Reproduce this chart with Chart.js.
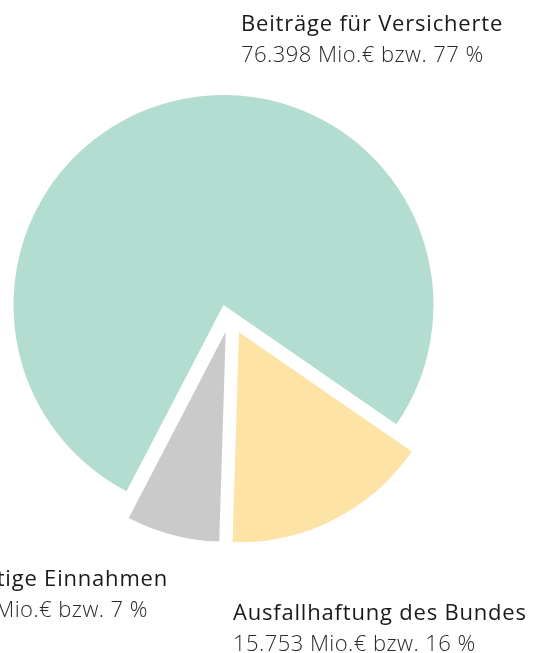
<!DOCTYPE html>
<html>
<head>
<meta charset="utf-8">
<script src="https://cdn.jsdelivr.net/npm/chart.js@4/dist/chart.umd.min.js"></script>
<style>
  html, body { margin: 0; padding: 0; background: #fff; }
  canvas { display: block; }
</style>
</head>
<body>
<canvas id="myChart" width="539" height="653"></canvas>
<script>
// Einnahmen in Mio. €
const labels = ['Beiträge für Versicherte', 'Ausfallhaftung des Bundes', 'Sonstige Einnahmen'];
const amounts = [76398, 15753, 7097];
const colors = ['#b3ddd0', '#fee3a6', '#cacaca'];

// label anchors: x, first baseline; the last block is set flush right (ends of both lines)
// and runs off the left edge of the picture
const labelPos = [[241, 31], [233, 620], [168, 586, 148]];
const sliceShift = [[0, 0], [15.5, 27.3], [2.2, 26.7]];

const total = amounts.reduce((a, b) => a + b, 0);
const fmt = v => String(v).replace(/\B(?=(\d{3})+(?!\d))/g, '.');

// draw each arc moved by its own shift
const explode = {
  id: 'explode',
  beforeDatasetDraw(chart, args) {
    const c = chart.ctx;
    args.meta.data.forEach((arc, i) => {
      c.save();
      c.translate(sliceShift[i][0], sliceShift[i][1]);
      arc.draw(c);
      c.restore();
    });
    return false;
  }
};

const sliceLabels = {
  id: 'sliceLabels',
  afterDraw(chart) {
    const c = chart.ctx;
    c.save();
    c.textBaseline = 'alphabetic';
    labels.forEach((name, i) => {
      const [x, y, x2] = labelPos[i];
      const right = x2 !== undefined;
      c.textAlign = right ? 'right' : 'left';
      const pct = Math.round(amounts[i] / total * 100);

      c.font = '400 22px "Open Sans", sans-serif';
      c.letterSpacing = '0.8px';
      c.fillStyle = '#1a1a1a';
      c.fillText(name, x, y);

      c.font = '300 22px "Open Sans", sans-serif';
      c.letterSpacing = '0.45px';
      c.fillStyle = '#2a2a2a';
      c.fillText(fmt(amounts[i]) + ' Mio.€ bzw. ' + pct + ' %', right ? x2 : x, y + 31);
    });
    c.restore();
  }
};

const ctx = document.querySelector('#myChart').getContext('2d');
const chart = new Chart(ctx, {
  type: 'pie',
  data: {
    labels: labels,
    datasets: [{
      data: amounts,
      backgroundColor: colors,
      borderWidth: 0
    }]
  },
  options: {
    responsive: false,
    animation: false,
    rotation: 207.5,
    radius: 210,
    layout: { padding: { left: 0, right: 92, top: 0, bottom: 43 } },
    plugins: {
      legend: { display: false },
      tooltip: { enabled: false }
    }
  },
  plugins: [explode, sliceLabels]
});
</script>
</body>
</html>
